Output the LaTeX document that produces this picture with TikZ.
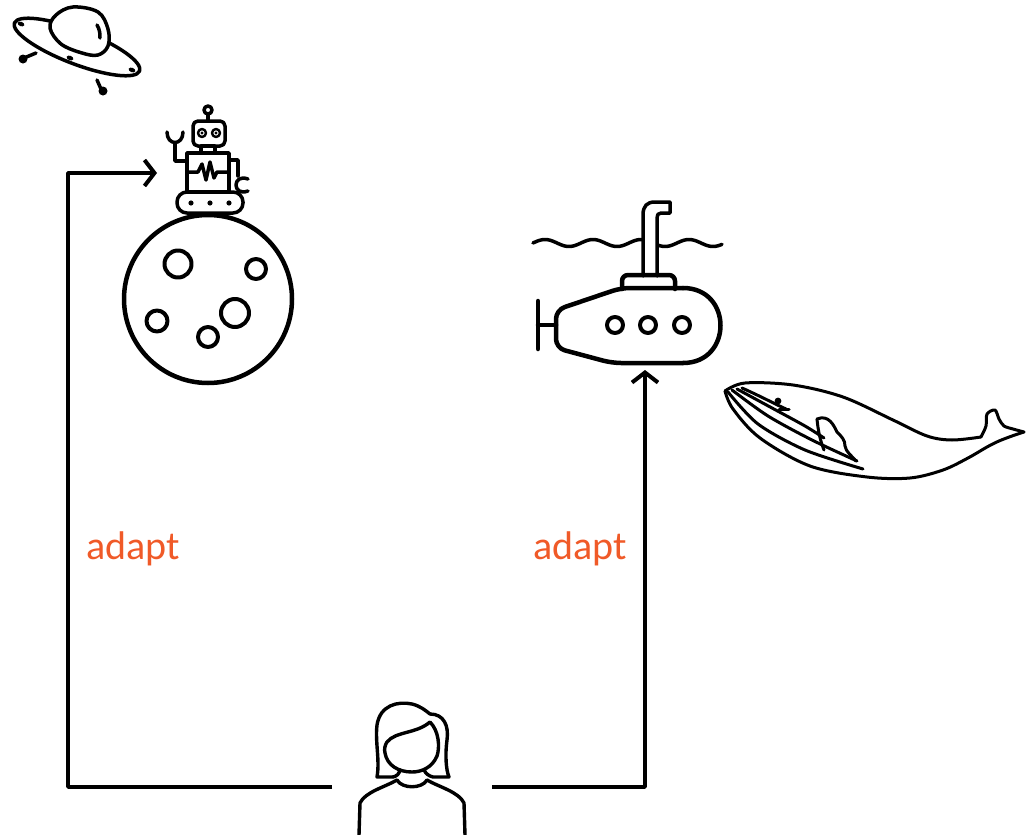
\documentclass[tikz,border=0pt]{standalone}
\usepackage{fontspec}
\setmainfont{Carlito}
\usetikzlibrary{arrows.meta}
\definecolor{adaptorange}{RGB}{240,90,40}
\begin{document}
\begin{tikzpicture}[x=1pt,y=-1pt,
  line join=round,
  conn/.style={line width=3.6pt,-{Straight Barb[length=10pt,width=26pt,line width=4pt]}},
  lbl/.style={text=adaptorange,font=\fontsize{40}{46}\selectfont,inner sep=0pt},
  icon/.style={line width=3.5pt,line cap=round},
  thick icon/.style={line width=4.5pt,line cap=round}]
\useasboundingbox (0,0) rectangle (1026,835);

% ---------- flying saucer ----------
\draw[icon,rotate around={-21:(77,47)}] (77,47) ellipse [x radius=67pt, y radius=17pt];
\draw[icon,fill=white] plot[smooth cycle,tension=0.6] coordinates
  {(50,28) (56,15) (73,7) (98,12) (108,29) (108,46) (98,55) (82,53) (61,44)};
\draw[icon] (97,25) .. controls (100,30) and (100,34) .. (100,38);
\fill[rotate around={-21:(21,24)}] (21,24) ellipse [x radius=3.5pt, y radius=2.2pt];
\fill[rotate around={-21:(70,58)}] (70,58) ellipse [x radius=3.5pt, y radius=2.2pt];
\fill[rotate around={-21:(132,70)}] (132,70) ellipse [x radius=3.5pt, y radius=2.2pt];
\draw[icon] (36,53) -- (24,58);
\fill (23,59) circle [radius=4.5pt];
\draw[icon] (97,80) -- (101,89);
\fill (103,91) circle [radius=4.5pt];

% ---------- robot ----------
\draw[icon] (208,110) circle [radius=4pt];
\draw[icon] (208,114) -- (208,121);
\draw[icon,rounded corners=5pt] (193,121) rectangle (225,146);
\draw[line width=2.4pt] (202,133) circle [radius=4pt];
\draw[line width=2.4pt] (216,133) circle [radius=4pt];
\fill (202,133) circle [radius=1.7pt];
\fill (216,133) circle [radius=1.7pt];
\draw[icon] (201,146) rectangle (215,153);
\draw[icon] (187,153) rectangle (229,192);
\draw[icon] (187,172) -- (198,172) -- (202,164) -- (206,180) -- (210,162) -- (214,178) -- (217,172) -- (229,172);
\draw[icon] (187,161) -- (175,161) -- (175,143);
\draw[icon] (167,132) .. controls (167,146) and (183,146) .. (183,132);
\draw[icon] (229,160) -- (238,160) -- (238,176);
\draw[icon] (248,179) .. controls (232,173) and (232,197) .. (248,191);
\draw[icon,rounded corners=10pt] (177,192) rectangle (243,213);
\fill (191,203) circle [radius=2.6pt];
\fill (210,203) circle [radius=2.6pt];
\fill (229,203) circle [radius=2.6pt];

% ---------- moon ----------
\draw[thick icon] (208,299) circle [radius=84pt];
\draw[line width=4pt] (178,264) circle [radius=13.5pt];
\draw[line width=4pt] (256,269) circle [radius=10pt];
\draw[line width=4pt] (157,321) circle [radius=10.5pt];
\draw[line width=4pt] (235,313) circle [radius=14pt];
\draw[line width=4pt] (208,337) circle [radius=10pt];

% ---------- submarine ----------
\draw[icon] plot[domain=533:722,samples=90] (\x,{243-3.5*sin((\x-533)*7.5)});
\draw[icon,fill=white] (643,276) -- (643,215) .. controls (643,206) and (647,202) .. (655,202)
  -- (670,202) -- (670,213) -- (661,213) .. controls (658,213) and (657,215) .. (657,218) -- (657,276);
\draw[thick icon,rounded corners=6pt] (622,289) -- (622,275) -- (675,275) -- (675,289);
\draw[thick icon,rounded corners=9pt] (683,288) -- (621,288) -- (556,310) -- (556,348) -- (612,363) -- (683,363);
\draw[thick icon] (683,288) .. controls (733,288) and (733,363) .. (683,363);
\draw[thick icon] (538,301) -- (538,349);
\draw[thick icon] (538,325) -- (556,325);
\draw[line width=4pt] (615,325) circle [radius=8pt];
\draw[line width=4pt] (648,325) circle [radius=8pt];
\draw[line width=4pt] (682,325) circle [radius=8pt];

% ---------- whale ----------
\begin{scope}[line width=3pt,line cap=round]
\draw plot[smooth,tension=0.55] coordinates
  {(725,391) (745,383) (793,385) (843,397) (893,420) (927,436) (952,440) (981,437)};
\draw plot[smooth,tension=0.5] coordinates
  {(981,437) (986,426) (987,414) (995,410) (999,419) (1004,426) (1013,429) (1024,432)};
\draw plot[smooth,tension=0.55] coordinates
  {(1024,432) (1012,436) (999,441) (987,447) (968,458) (943,470) (910,478) (867,477) (810,466) (760,438) (733,409) (725,391)};
\draw plot[smooth,tension=0.5] coordinates {(728,392) (758,424) (805,450) (863,469)};
\draw plot[smooth,tension=0.5] coordinates {(732,390) (768,416) (812,440) (857,461)};
\draw plot[smooth,tension=0.5] coordinates {(737,389) (772,408) (805,426) (824,438)};
\draw (742,388) .. controls (760,396) and (775,404) .. (786,409);
\draw (779,409) -- (789,409);
\fill (778,401) circle [radius=3.4pt];
\draw (817,419) .. controls (829,414) and (834,426) .. (837,432)
  .. controls (842,437) and (845,440) .. (845,446)
  .. controls (846,452) and (851,455) .. (856,461);
\draw (817,419) .. controls (818,430) and (820,440) .. (824,450);
\end{scope}

% ---------- person ----------
\begin{scope}[line width=3.4pt,line cap=round]
\draw (393,777) -- (377,777) .. controls (380,760) and (375,742) .. (377,725)
  .. controls (380,705) and (398,701) .. (412,704)
  .. controls (420,706) and (425,710) .. (430,714)
  .. controls (444,714) and (449,726) .. (447,740)
  .. controls (445,755) and (446,770) .. (449,777) -- (433,777)
  .. controls (429,776) and (426,774) .. (424,770);
\draw (393,777) .. controls (397,776) and (399,774) .. (400,770);
\draw (387,742) .. controls (396,731) and (416,734) .. (430,722)
  .. controls (439,731) and (440,747) .. (437,756)
  .. controls (432,768) and (421,772) .. (412,772)
  .. controls (398,772) and (387,765) .. (385,753)
  .. controls (384,749) and (385,745) .. (387,742);
\draw (397,780) .. controls (402,789) and (422,789) .. (427,780);
\draw (397,780) .. controls (385,787) and (365,792) .. (360,803) -- (359,835);
\draw (427,780) .. controls (439,787) and (459,792) .. (464,803) -- (465,835);
\end{scope}
\coordinate (personL) at (332,787);
\coordinate (personR) at (492,787);
\coordinate (robotIn) at (157,173);
\coordinate (subIn) at (645,370);

% ---------- connectors ----------
\draw[conn] (personL) -- (68,787) |- (robotIn);
\draw[conn] (personR) -| (subIn);

\node[lbl] (adaptL) at (133,549) {adapt};
\node[lbl] (adaptR) at (580,549) {adapt};
\end{tikzpicture}
\end{document}
